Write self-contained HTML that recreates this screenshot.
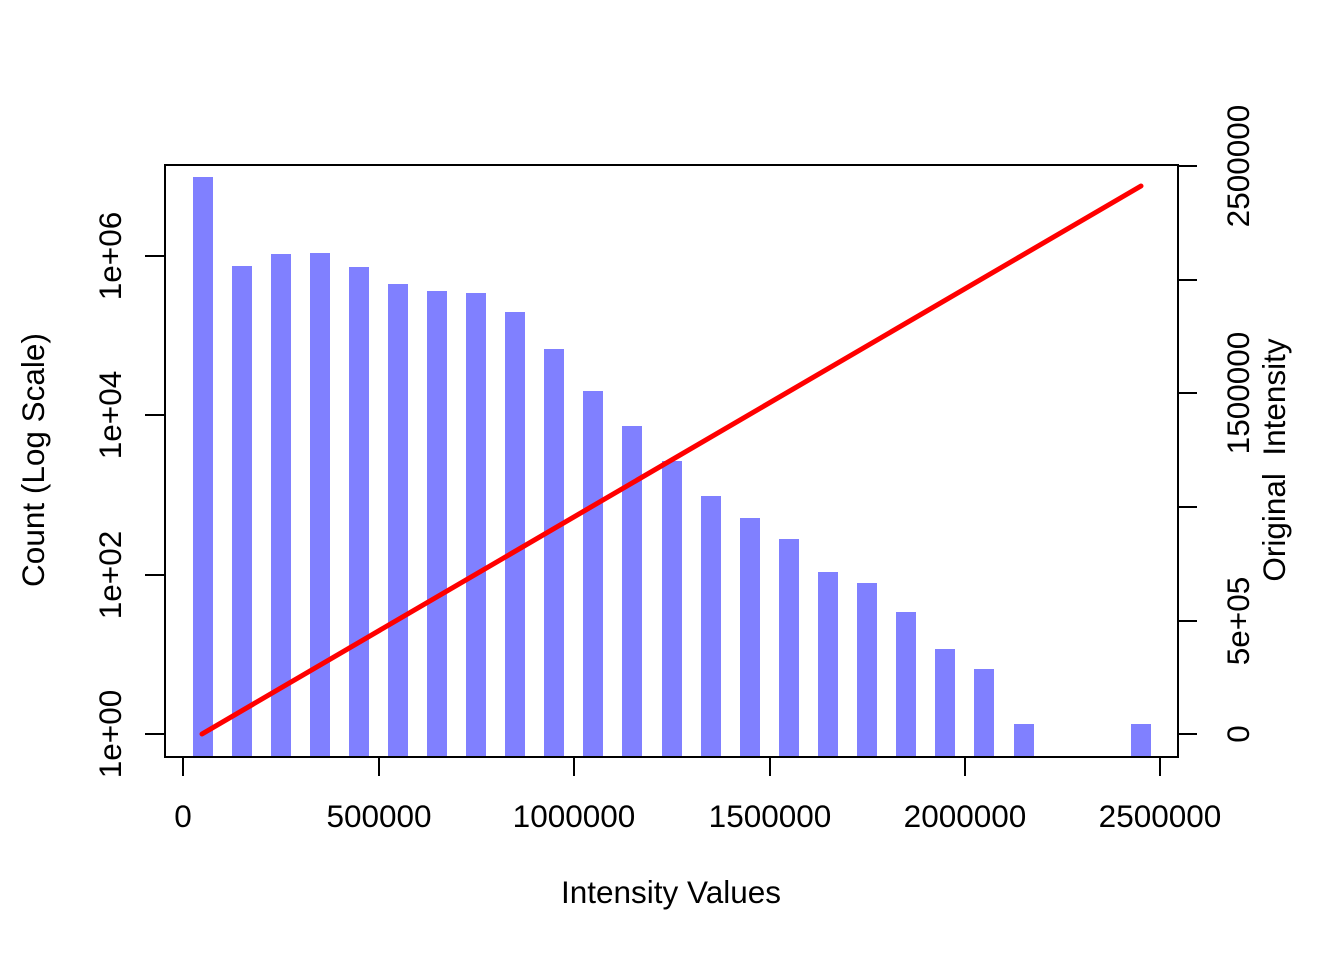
<!DOCTYPE html>
<html><head><meta charset="utf-8"><style>body{margin:0;background:#fff}svg{display:block}</style></head><body>
<svg width="1344" height="960" xmlns="http://www.w3.org/2000/svg" font-family="Liberation Sans, Arial, sans-serif" font-size="31.5">
<g fill="#8080FF">
<rect x="193" y="177" width="20" height="580"/>
<rect x="232" y="266" width="20" height="491"/>
<rect x="271" y="254" width="20" height="503"/>
<rect x="310" y="253" width="20" height="504"/>
<rect x="349" y="267" width="20" height="490"/>
<rect x="388" y="284" width="20" height="473"/>
<rect x="427" y="291" width="20" height="466"/>
<rect x="466" y="293" width="20" height="464"/>
<rect x="505" y="312" width="20" height="445"/>
<rect x="544" y="349" width="20" height="408"/>
<rect x="583" y="391" width="20" height="366"/>
<rect x="622" y="426" width="20" height="331"/>
<rect x="662" y="461" width="20" height="296"/>
<rect x="701" y="496" width="20" height="261"/>
<rect x="740" y="518" width="20" height="239"/>
<rect x="779" y="539" width="20" height="218"/>
<rect x="818" y="572" width="20" height="185"/>
<rect x="857" y="583" width="20" height="174"/>
<rect x="896" y="612" width="20" height="145"/>
<rect x="935" y="649" width="20" height="108"/>
<rect x="974" y="669" width="20" height="88"/>
<rect x="1014" y="724" width="20" height="33"/>
<rect x="1131" y="724" width="20" height="33"/>
</g>
<rect x="165" y="165" width="1013" height="592" fill="none" stroke="#000" stroke-width="2"/>
<line x1="202" y1="734" x2="1141" y2="186" stroke="#FF0000" stroke-width="5" stroke-linecap="round"/>
<g stroke="#000" stroke-width="2">
<line x1="183" y1="757" x2="1160" y2="757"/>
<line x1="183" y1="757" x2="183" y2="776"/><line x1="379" y1="757" x2="379" y2="776"/><line x1="574" y1="757" x2="574" y2="776"/><line x1="770" y1="757" x2="770" y2="776"/><line x1="965" y1="757" x2="965" y2="776"/><line x1="1160" y1="757" x2="1160" y2="776"/>
<line x1="165" y1="734" x2="145" y2="734"/><line x1="165" y1="575" x2="145" y2="575"/><line x1="165" y1="415" x2="145" y2="415"/><line x1="165" y1="256" x2="145" y2="256"/>
<line x1="1178" y1="166" x2="1178" y2="734"/>
<line x1="1178" y1="734" x2="1197" y2="734"/><line x1="1178" y1="621" x2="1197" y2="621"/><line x1="1178" y1="507" x2="1197" y2="507"/><line x1="1178" y1="393" x2="1197" y2="393"/><line x1="1178" y1="280" x2="1197" y2="280"/><line x1="1178" y1="166" x2="1197" y2="166"/>
</g>
<g text-anchor="middle">
<text x="183" y="827">0</text><text x="379" y="827">500000</text><text x="574" y="827">1000000</text><text x="770" y="827">1500000</text><text x="965" y="827">2000000</text><text x="1160" y="827">2500000</text>
<text x="671" y="903">Intensity Values</text>
<text transform="translate(121,734) rotate(-90)">1e+00</text>
<text transform="translate(121,575) rotate(-90)">1e+02</text>
<text transform="translate(121,415) rotate(-90)">1e+04</text>
<text transform="translate(121,256) rotate(-90)">1e+06</text>
<text transform="translate(44,460) rotate(-90)">Count (Log Scale)</text>
<text transform="translate(1249,734) rotate(-90)">0</text>
<text transform="translate(1249,621) rotate(-90)">5e+05</text>
<text transform="translate(1249,393) rotate(-90)">1500000</text>
<text transform="translate(1249,166) rotate(-90)">2500000</text>
<text transform="translate(1285,460) rotate(-90)" xml:space="preserve">Original  Intensity</text>
</g>
</svg>
</body></html>
